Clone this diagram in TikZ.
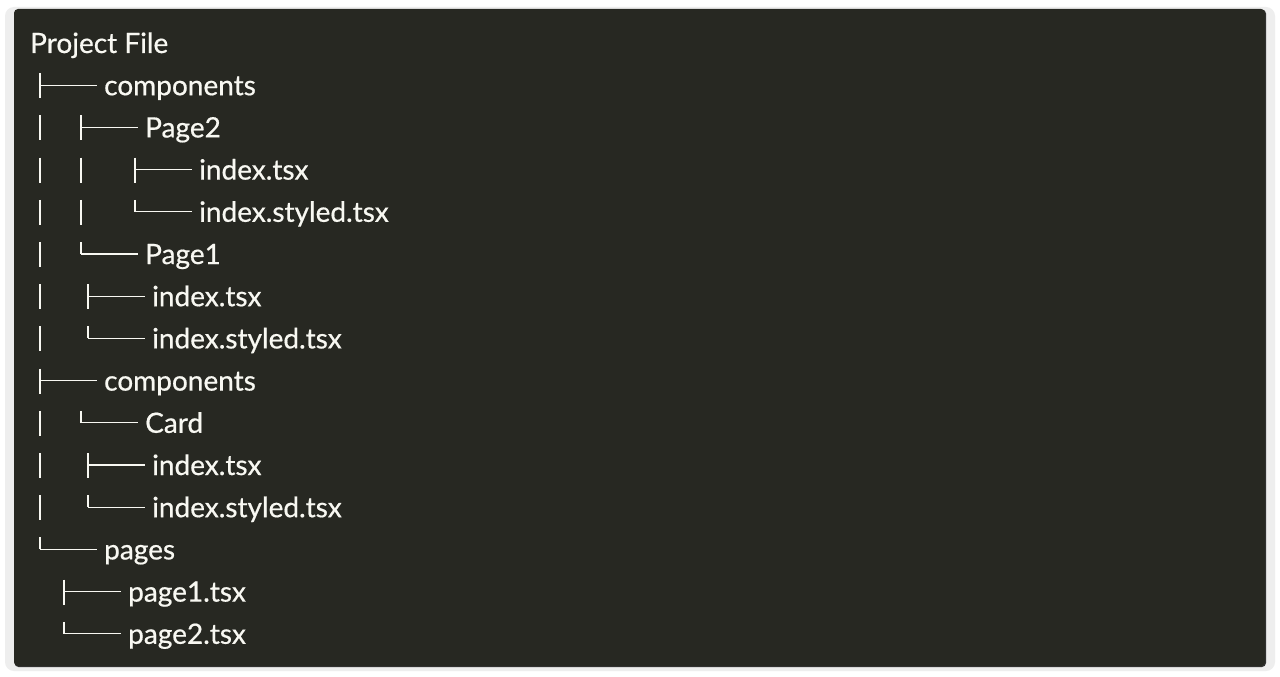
\documentclass[tikz,border=0pt]{standalone}
\usepackage{fontspec}
\newfontfamily\treefont{Lato}[FakeBold=0.6]
\definecolor{bgdark}{HTML}{272822}
\definecolor{framegrey}{HTML}{EEEEEE}
\definecolor{fg}{HTML}{F8F8F2}
\begin{document}
\begin{tikzpicture}[x=1pt,y=-1pt,
  txt/.style={anchor=west,inner xsep=7pt,inner ysep=0pt,text height=22pt,text depth=2pt,
    font=\treefont\fontsize{28}{30}\selectfont,text=fg},
  tl/.style={draw=fg,line width=1.3pt}]
\useasboundingbox (0,0) rectangle (1280,677);
\fill[white] (0,0) rectangle (1280,677);
\fill[framegrey, rounded corners=9pt] (5,7) rectangle (1275,671);
\fill[black!80, rounded corners=4pt] (14.5,9.5) rectangle (1266,667);
\fill[bgdark, rounded corners=4pt] (14,9) rectangle (1265,666);
\node[txt] (r0) at (23,43) {Project File};
\foreach \i/\b/\t/\e/\s in {
  1/40/104/13/components,
  2/81/145/13/Page2,
  3/135/199/13/index.tsx,
  4/135/199/0/index.styled.tsx,
  5/81/145/0/Page1,
  6/88/152/13/index.tsx,
  7/88/152/0/index.styled.tsx,
  8/40/104/13/components,
  9/81/145/0/Card,
  10/88/152/13/index.tsx,
  11/88/152/0/index.styled.tsx,
  12/40/104/0/pages,
  13/64/128/13/page1.tsx,
  14/64/128/0/page2.tsx} {
  \pgfmathsetmacro\y{43+42.2*\i}
  \node[txt] (r\i) at (\t-7,\y) {\s};
  \coordinate (b\i) at (\b,\y);
  \draw[tl] (\b,\y-12) -- (\b,\y+\e);
  \draw[tl] (b\i) -- (r\i.west);
}
\foreach \i/\x in {2/40,3/40,3/81,4/40,4/81,5/40,6/40,7/40,9/40,10/40,11/40} {
  \pgfmathsetmacro\y{43+42.2*\i}
  \draw[tl] (\x,\y-12) -- (\x,\y+13);
}
\end{tikzpicture}
\end{document}
